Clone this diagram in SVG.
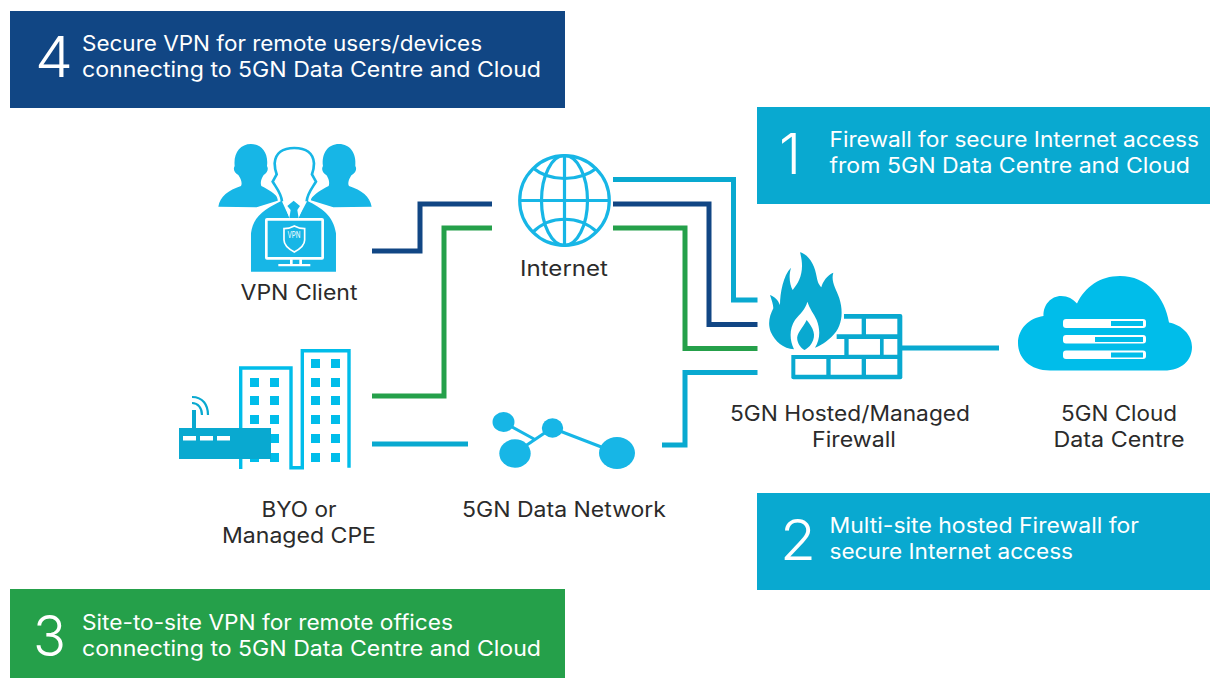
<svg xmlns="http://www.w3.org/2000/svg" width="1210" height="678" viewBox="0 0 1210 678">
<style>
text{font-family:"Inter","Liberation Sans",sans-serif;font-size:21px;fill:#2b2b2b}
.w{fill:#fff}
.n{font-size:56px;font-weight:300;fill:#fff}
.c{fill:none;stroke-width:5}
.cy{stroke:#09a9d0}.bl{stroke:#114684}.gr{stroke:#25a04a}
.a{fill:#17b6e6}.d{fill:#09a9d0}.e{fill:#00bdea}
</style>
<rect width="1210" height="678" fill="#fff"/>
<g id="connectors">
<path class="c cy" d="M613 179.500H733.500V300H757.500"/>
<path class="c bl" d="M613 204H709V324.500H757.500"/>
<path class="c gr" d="M613 228H685V348.500H757.500"/>
<path class="c cy" d="M662 445H685V372.500H757.500"/>
<path class="c cy" d="M902 348H999"/>
<path class="c bl" d="M372 251H420V204H492"/>
<path class="c gr" d="M372 396H444V228H492"/>
<path class="c cy" d="M372 444H468"/>
</g>
<g id="box4"><rect x="10" y="11" width="555" height="97" fill="#114684"/>
<text class="n" x="35" y="77" textLength="38" lengthAdjust="spacingAndGlyphs">4</text>
<text class="w" x="82" y="51" textLength="400" lengthAdjust="spacingAndGlyphs">Secure VPN for remote users/devices</text>
<text class="w" x="82" y="77" textLength="459" lengthAdjust="spacingAndGlyphs">connecting to 5GN Data Centre and Cloud</text></g>
<g id="box1"><rect x="757" y="107" width="453" height="97" fill="#09a9d0"/>
<text class="n" x="779" y="174">1</text>
<text class="w" x="829.500" y="147" textLength="369.500" lengthAdjust="spacingAndGlyphs">Firewall for secure Internet access</text>
<text class="w" x="829.500" y="173" textLength="360.500" lengthAdjust="spacingAndGlyphs">from 5GN Data Centre and Cloud</text></g>
<g id="box2"><rect x="757" y="493" width="453" height="97" fill="#09a9d0"/>
<text class="n" x="780" y="560" textLength="36" lengthAdjust="spacingAndGlyphs">2</text>
<text class="w" x="829.500" y="533" textLength="309.500" lengthAdjust="spacingAndGlyphs">Multi-site hosted Firewall for</text>
<text class="w" x="829.500" y="559" textLength="243.500" lengthAdjust="spacingAndGlyphs">secure Internet access</text></g>
<g id="box3"><rect x="10" y="589" width="555" height="89" fill="#25a04a"/>
<text class="n" x="33" y="656" textLength="33" lengthAdjust="spacingAndGlyphs">3</text>
<text class="w" x="82" y="630" textLength="371" lengthAdjust="spacingAndGlyphs">Site-to-site VPN for remote offices</text>
<text class="w" x="82" y="656" textLength="459" lengthAdjust="spacingAndGlyphs">connecting to 5GN Data Centre and Cloud</text></g>
<g id="vpn-client">
<g transform="translate(170 130) scale(.3333)">
<path class="a" d="M145 230C150 200 175 180 213 168C218 158 212 145 205 135C194 130 188 118 194 108C190 70 210 42 243 42C276 42 296 70 291 108C297 118 291 130 281 135C274 145 270 158 274 168C295 178 315 190 330 210L260 232Z"/>
<path class="a" d="M605 230C600 200 575 180 537 168C532 158 538 145 545 135C556 130 562 118 556 108C560 70 540 42 507 42C474 42 454 70 459 108C453 118 459 130 469 135C476 145 480 158 476 168C455 178 435 190 420 210L490 232Z"/>
<path fill="#fff" stroke="#fff" stroke-width="24" d="M336 214C334 190 318 172 308 155L320 133C316 122 314 112 314 100C316 70 338 54 373 54C408 54 430 70 432 100C432 112 430 122 426 133L438 155C428 172 412 190 410 214Z"/>
<path class="a" d="M243 425V310C250 255 290 235 335 212L358 262H386L412 212C455 235 490 255 498 310V425Z"/>
<path fill="#fff" stroke="#17b6e6" stroke-width="8" d="M336 214C334 190 318 172 308 155L320 133C316 122 314 112 314 100C316 70 338 54 373 54C408 54 430 70 432 100C432 112 430 122 426 133L438 155C428 172 412 190 410 214"/>
<path fill="#fff" d="M340 214H406L386 264H358Z"/>
<path class="a" d="M371 212L390 228L382 240L386 265H358L362 240L352 228Z"/>
<rect x="289" y="268" width="169" height="117" class="a" stroke="#fff" stroke-width="8" rx="2"/>
<path fill="#fff" d="M360 388h8v14h-8zM388 388h8v14h-8zM325 402h96v7h-96z"/>
<path class="a" stroke="#fff" stroke-width="5" d="M373 288C360 295 352 296 342 296V330C342 345 358 358 373 366C388 358 404 345 404 330V296C394 296 386 295 373 288Z"/>
</g>
<text x="294" y="238" style="font-size:9px;fill:#fff" text-anchor="middle" textLength="13" lengthAdjust="spacingAndGlyphs">VPN</text>
<text x="299" y="299.500" text-anchor="middle" textLength="117" lengthAdjust="spacingAndGlyphs">VPN Client</text>
</g>
<g id="cpe">
<path fill="none" stroke="#00bdea" stroke-width="3.400" d="M240.700 469V368H291V467.700H302.300V350.700H349V467.700"/>
<g class="e">
<path d="M250 378h9v9h-9zM270 378h9v9h-9zM250 396h9v9h-9zM270 396h9v9h-9zM250 415h9v9h-9zM270 415h9v9h-9zM270 434h9v9h-9zM250 453h9v9h-9zM270 453h9v9h-9z"/>
<path d="M311 359h9v9h-9zM331 359h9v9h-9zM311 378h9v9h-9zM331 378h9v9h-9zM311 396h9v9h-9zM331 396h9v9h-9zM311 415h9v9h-9zM331 415h9v9h-9zM311 434h9v9h-9zM331 434h9v9h-9zM311 453h9v9h-9zM331 453h9v9h-9z"/>
</g>
<rect x="179" y="428" width="92" height="31" class="d"/>
<path fill="#fff" d="M183 436h13v4.500h-13zM200 436h13v4.500h-13zM217 436h13v4.500h-13z"/>
<path class="d" d="M192 410h4v18h-4z"/>
<path fill="none" stroke="#09a9d0" stroke-width="2.200" d="M192 397C203 397 208 405 208 415M192 403C198 403 202 408 202 415"/>
<text x="299" y="517" text-anchor="middle" textLength="75" lengthAdjust="spacingAndGlyphs">BYO or</text>
<text x="299" y="543" text-anchor="middle" textLength="154" lengthAdjust="spacingAndGlyphs">Managed CPE</text>
</g>
<g id="internet">
<g fill="none" stroke="#17b6e6" stroke-width="3.200">
<circle cx="564.500" cy="200.500" r="44.800"/>
<path d="M564.500 155V246M520 200.500H609"/>
<ellipse cx="564.500" cy="200.500" rx="23" ry="45"/>
<path d="M533 168C550 182 579 182 597 168M533 232C550 215 579 215 597 232"/>
</g>
<text x="564" y="276" text-anchor="middle" textLength="88" lengthAdjust="spacingAndGlyphs">Internet</text>
</g>
<g id="data-network">
<path fill="none" stroke="#17b6e6" stroke-width="3" d="M503 422L534 439M515 453L552 428L617 453"/>
<g class="a"><ellipse cx="503.500" cy="422" rx="11" ry="10"/><ellipse cx="515" cy="453.500" rx="15.700" ry="14.300"/><ellipse cx="552.500" cy="428" rx="10.700" ry="9.700"/><ellipse cx="617" cy="453" rx="18" ry="16"/></g>
<text x="564" y="517" text-anchor="middle" textLength="204" lengthAdjust="spacingAndGlyphs">5GN Data Network</text>
</g>
<g id="firewall">
<g transform="translate(720 240) scale(.3333)">
<rect x="214" y="222" width="333" height="196" rx="6" class="d"/>
<path fill="#fff" d="M226 357h93v47h-93zM332 357h93v47h-93zM438 357h94v47h-94zM386 297h94v47h-94zM491 297h41v47h-41zM438 236h94v47h-94z"/>
<path fill="#fff" d="M200 210H372V236H425V283H350V297H373V345H200Z"/>
<path class="d" d="M240 37C270 45 285 80 290 110C293 128 298 135 304 142C308 125 322 105 340 98C332 125 348 145 358 175C372 220 365 262 335 290C320 305 300 318 285 323C300 300 302 270 290 240C282 222 268 205 262 185C258 205 240 222 225 240C208 265 208 300 222 328C190 325 165 305 152 275C142 248 150 225 160 205C160 195 155 180 150 165C165 170 175 182 180 195C180 160 190 105 213 83C205 110 210 135 218 150C240 125 255 90 240 37Z"/>
<path class="d" d="M260 240C280 265 290 285 275 310C268 322 258 328 253 330C245 325 235 315 232 300C228 280 248 265 260 240Z"/>
</g>
<text x="850" y="421" text-anchor="middle" textLength="240" lengthAdjust="spacingAndGlyphs">5GN Hosted/Managed</text>
<text x="854" y="447" text-anchor="middle" textLength="84" lengthAdjust="spacingAndGlyphs">Firewall</text>
</g>
<g id="cloud">
<path class="e" d="M1050 370.500C1030 370.500 1018 358 1018 343C1018 329 1029 318 1043.500 316C1043 305 1051 296 1061 296C1068 296 1073 299 1077 303.500C1085 287 1100 276 1120 276C1147 276 1165 297 1169 322.500C1182 325 1192 335 1192 347C1192 360 1182 370.500 1164 370.500Z"/>
<g fill="#fff"><rect x="1063" y="319" width="83" height="9" rx="3"/><rect x="1063" y="335" width="83" height="8.500" rx="3"/><rect x="1063" y="350.500" width="83" height="8.500" rx="3"/></g>
<g class="e"><rect x="1111" y="321" width="32" height="5"/><rect x="1095" y="337" width="48" height="5"/><rect x="1111" y="352.500" width="32" height="5"/></g>
<text x="1119" y="421" text-anchor="middle" textLength="116" lengthAdjust="spacingAndGlyphs">5GN Cloud</text>
<text x="1119" y="447" text-anchor="middle" textLength="131" lengthAdjust="spacingAndGlyphs">Data Centre</text>
</g>
</svg>
